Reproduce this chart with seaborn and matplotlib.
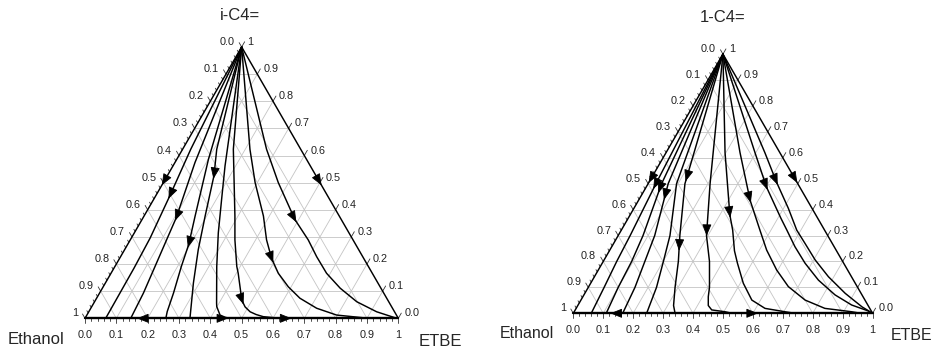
import numpy as np
import pandas as pd
import matplotlib
matplotlib.use('Agg')
import matplotlib.pyplot as plt
import seaborn as sns

sns.set_theme(style='white')
plt.rcParams['font.family'] = ['Liberation Sans', 'DejaVu Sans']

SQ = np.sqrt(3) / 2

# ---- i-C4= panel: residue curves, x_iC4 (top) and x_ETBE along each curve ----
ic4_xi = [
    [1, 0.623, 0.451, 0.296, 0.185, 0.093, 0],
    [1, 0.574, 0.370, 0.296, 0.191, 0.093, 0],
    [1, 0.586, 0.377, 0.272, 0.191, 0.093, 0.025, 0],
    [1, 0.623, 0.525, 0.377, 0.253, 0.130, 0],
    [1, 0.562, 0.438, 0.315, 0.191, 0.056, 0.043, 0.012, 0.004, 0],
    [1, 0.623, 0.377, 0.289, 0.191, 0.166, 0.067, 0.042, 0.024, 0.014, 0.006, 0],
    [1, 0.623, 0.500, 0.377, 0.289, 0.221, 0.166, 0.116, 0.074, 0.037, 0.012, 0.002, 0],
    [1, 0.623, 0.500, 0.364, 0.289, 0.227, 0.166, 0.111, 0.061, 0.024, 0],
]
ic4_xe = [
    [0, 0.026, 0.045, 0.060, 0.064, 0.065, 0.066],
    [0, 0.064, 0.106, 0.115, 0.128, 0.140, 0.146],
    [0, 0.101, 0.163, 0.195, 0.212, 0.236, 0.250, 0.258],
    [0, 0.109, 0.149, 0.195, 0.235, 0.281, 0.335],
    [0, 0.166, 0.217, 0.268, 0.325, 0.392, 0.399, 0.425, 0.445, 0.460],
    [0, 0.162, 0.290, 0.334, 0.389, 0.406, 0.467, 0.490, 0.515, 0.539, 0.566, 0.622],
    [0, 0.215, 0.293, 0.381, 0.435, 0.485, 0.534, 0.591, 0.649, 0.721, 0.797, 0.887, 0.930],
    [0, 0.268, 0.367, 0.488, 0.568, 0.626, 0.688, 0.759, 0.837, 0.919, 0.995],
]
ic4_arrow_curve = [0, 1, 2, 3, 5, 6, 7]
ic4_arrow_xi = [0.451, 0.370, 0.272, 0.525, 0.062, 0.216, 0.364]
ic4_edge_arrow_xi = [0.5, 0.5]          # left edge, right edge
ic4_base_arrow_xe = [0.176, 0.447, 0.649]
ic4_base_arrow_dir = [-1, 1, 1]

# ---- 1-C4= panel ----
bc4_xi = [
    [1, 0.5, 0.3, 0.2, 0.1, 0],
    [1, 0.5, 0.3, 0.2, 0.1, 0],
    [1, 0.5, 0.3, 0.2, 0.1, 0],
    [1, 0.5, 0.3, 0.2, 0.1, 0],
    [1, 0.5, 0.3, 0.2, 0.1, 0.03, 0],
    [1, 0.5, 0.3, 0.2, 0.1, 0.064, 0.03, 0.013, 0.006, 0],
    [1, 0.620, 0.380, 0.321, 0.241, 0.193, 0.116, 0.051, 0.019, 0.006, 0],
    [1, 0.620, 0.437, 0.321, 0.244, 0.167, 0.103, 0.051, 0.019, 0.006, 0],
    [1, 0.620, 0.487, 0.367, 0.321, 0.257, 0.193, 0.128, 0.071, 0.032, 0.009, 0],
    [1, 0.620, 0.506, 0.405, 0.321, 0.270, 0.206, 0.141, 0.077, 0.025, 0],
]
bc4_xe = [
    [0, 0.026, 0.040, 0.045, 0.053, 0.060],
    [0, 0.045, 0.083, 0.095, 0.100, 0.110],
    [0, 0.067, 0.122, 0.139, 0.156, 0.165],
    [0, 0.095, 0.173, 0.201, 0.228, 0.245],
    [0, 0.123, 0.206, 0.251, 0.290, 0.320, 0.340],
    [0, 0.207, 0.295, 0.355, 0.405, 0.419, 0.436, 0.456, 0.504, 0.530],
    [0, 0.197, 0.333, 0.372, 0.418, 0.452, 0.510, 0.571, 0.631, 0.704, 0.740],
    [0, 0.247, 0.372, 0.463, 0.524, 0.596, 0.667, 0.749, 0.831, 0.927, 0.960],
    [0, 0.297, 0.402, 0.510, 0.553, 0.612, 0.678, 0.755, 0.839, 0.914, 0.981, 0.995],
    [0, 0.330, 0.426, 0.516, 0.586, 0.639, 0.705, 0.782, 0.870, 0.952, 1.000],
]
bc4_arrow_curve = [0, 1, 2, 4, 4, 5, 6, 7, 8, 9]
bc4_arrow_xi = [0.49, 0.475, 0.449, 0.52, 0.253, 0.31, 0.38, 0.437, 0.487, 0.506]
bc4_edge_arrow_xi = [0.513, 0.513]
bc4_base_arrow_xe = [0.134, 0.607]
bc4_base_arrow_dir = [-1, 1]

tick_vals = np.round(np.arange(0, 1.01, 0.1), 1)


def to_xy(xe, xi):
    xe = np.asarray(xe, float)
    xi = np.asarray(xi, float)
    return xe + 0.5 * xi, xi * SQ


def fmt(v):
    return '1' if v >= 0.999 else f'{v:.1f}'


def arrow(ax, x, y, dx, dy, s=0.01):
    n = np.hypot(dx, dy)
    dx, dy = dx / n, dy / n
    ax.annotate('', xy=(x + dx * s, y + dy * s), xytext=(x - dx * s, y - dy * s),
                arrowprops=dict(arrowstyle='-|>,head_length=0.6,head_width=0.24',
                                color='black', lw=0.6, shrinkA=0, shrinkB=0))


def draw_panel(ax, ppu, curves_xi, curves_xe, arr_curve, arr_xi, edge_xi, base_xe, base_dir):
    px = 1.0 / ppu
    # grid
    g = dict(color='#c4c4c4', lw=0.6, zorder=1)
    for v in tick_vals[1:-1]:
        x, y = to_xy([0, 1 - v], [v, v]); ax.plot(x, y, **g)
        x, y = to_xy([v, v], [0, 1 - v]); ax.plot(x, y, **g)
        x, y = to_xy([1 - v, 0], [0, 1 - v]); ax.plot(x, y, **g)

    # residue curves
    rows = []
    for i, (xi, xe) in enumerate(zip(curves_xi, curves_xe)):
        x, y = to_xy(xe, xi)
        for k in range(len(x)):
            rows.append({'curve': i, 'x': x[k], 'y': y[k]})
    df = pd.DataFrame(rows)
    sns.lineplot(data=df, x='x', y='y', units='curve', estimator=None, sort=False,
                 color='black', lw=1.05, ax=ax, zorder=3)

    # triangle edges
    ax.plot([0, 0.5, 1], [0, SQ, 0], color='black', lw=1.05, zorder=4)
    ax.plot([0, 1], [0, 0], color='black', lw=1.7, zorder=4)

    # arrows on curves
    for c, a in zip(arr_curve, arr_xi):
        xi = np.array(curves_xi[c])[::-1]
        xe = np.array(curves_xe[c])[::-1]
        e0 = np.interp(a, xi, xe)
        e1 = np.interp(a + 0.02, xi, xe)
        e2 = np.interp(a - 0.02, xi, xe)
        x0, y0 = to_xy(e0, a)
        x1, y1 = to_xy(e1, a + 0.02)
        x2, y2 = to_xy(e2, a - 0.02)
        arrow(ax, x0, y0, x2 - x1, y2 - y1)
    x0, y0 = to_xy(0, edge_xi[0]); arrow(ax, x0, y0, -0.5, -SQ)
    x0, y0 = to_xy(1 - edge_xi[1], edge_xi[1]); arrow(ax, x0, y0, 0.5, -SQ)
    for e, d in zip(base_xe, base_dir):
        arrow(ax, e, 0, d, 0)

    # ticks
    tk = dict(color='#333333', lw=0.6, zorder=2)
    for j in range(51):
        v = j / 50
        major = j % 5 == 0
        L = (5 if major else 2.5) * px
        ax.plot([v, v], [0, -L], **tk)                       # bottom: ETBE
        x, y = to_xy(0, 1 - v)                               # left: Ethanol
        ax.plot([x, x - 0.5 * L], [y, y + SQ * L], **tk)
    for v in tick_vals:
        x, y = to_xy(1 - v, v)                               # right: i-C4
        ax.plot([x, x + 0.5 * 6 * px], [y, y + SQ * 6 * px], **tk)

    # tick labels
    fs = 7.8
    for v in tick_vals:
        ax.text(v, -17 * px, fmt(v), ha='center', va='center', fontsize=fs, color='#222222')
        x, y = to_xy(0, 1 - v)
        ax.text(x - 7 * px, y + 5 * px, fmt(v), ha='right', va='center', fontsize=fs, color='#222222')
        x, y = to_xy(1 - v, v)
        ax.text(x + 6 * px, y + 5 * px, fmt(v), ha='left', va='center', fontsize=fs, color='#222222')

    ax.set_axis_off()


W, H = 933, 349
fig = plt.figure(figsize=(W / 100, H / 100), dpi=100)

# left panel: Ethanol vertex at px (85, 318), 313 px per unit
pl = 313.3
axl = fig.add_axes([0, 0, 466 / W, 1])
axl.set_xlim(-85 / pl, (466 - 85) / pl)
axl.set_ylim((318.3 - H) / pl, 318.3 / pl)
draw_panel(axl, pl, ic4_xi, ic4_xe, ic4_arrow_curve, ic4_arrow_xi,
           ic4_edge_arrow_xi, ic4_base_arrow_xe, ic4_base_arrow_dir)

# right panel: Ethanol vertex at px (573, 313), 299 px per unit
pr = 299.3
axr = fig.add_axes([466 / W, 0, (W - 466) / W, 1])
axr.set_xlim((466 - 573.3) / pr, (W - 573.3) / pr)
axr.set_ylim((313.3 - H) / pr, 313.3 / pr)
draw_panel(axr, pr, bc4_xi, bc4_xe, bc4_arrow_curve, bc4_arrow_xi,
           bc4_edge_arrow_xi, bc4_base_arrow_xe, bc4_base_arrow_dir)

fig.text(240 / W, 1 - 16 / H, 'i-C4=', ha='center', va='center', fontsize=12)
fig.text(723 / W, 1 - 17 / H, '1-C4=', ha='center', va='center', fontsize=12)
fig.text(36 / W, 1 - 340 / H, 'Ethanol', ha='center', va='center', fontsize=12)
fig.text(440 / W, 1 - 341 / H, 'ETBE', ha='center', va='center', fontsize=12)
fig.text(527 / W, 1 - 334 / H, 'Ethanol', ha='center', va='center', fontsize=11.5)
fig.text(912 / W, 1 - 336 / H, 'ETBE', ha='center', va='center', fontsize=11.5)

fig.savefig('out.png', dpi=100, facecolor='white')
